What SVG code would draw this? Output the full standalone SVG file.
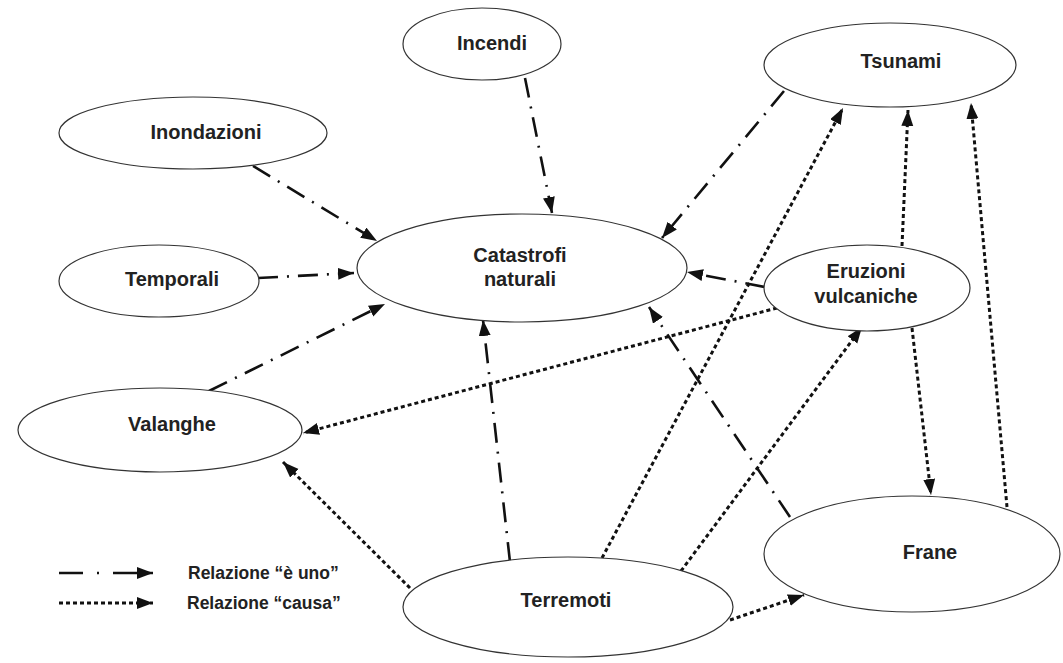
<svg xmlns="http://www.w3.org/2000/svg" width="1063" height="663" viewBox="0 0 1063 663">
<style>
.n ellipse{fill:#fff;stroke:#333;stroke-width:1.2}
.n text{font-family:"Liberation Sans",Arial,sans-serif;font-weight:bold;font-size:20px;fill:#222;text-anchor:middle}
.isa{fill:none;stroke:#111;stroke-width:2.6;stroke-dasharray:20 9 2 9;marker-end:url(#ah)}
.cause{fill:none;stroke:#111;stroke-width:3;stroke-dasharray:4 3;marker-end:url(#ah)}
.leg{font-family:"Liberation Sans",Arial,sans-serif;font-weight:bold;font-size:17.5px;fill:#222}
</style>
<defs>
<marker id="ah" markerUnits="userSpaceOnUse" markerWidth="18" markerHeight="14" refX="16" refY="6" orient="auto">
<path d="M0,0 L16,6 L0,12 Z" fill="#111"/>
</marker>
</defs>
<rect width="1063" height="663" fill="#fff"/>
<g id="connectors">
<line class="isa" x1="525" y1="78" x2="552" y2="213"/>
<line class="isa" x1="253" y1="166" x2="377" y2="241"/>
<line class="isa" x1="258" y1="278" x2="354" y2="273"/>
<line class="isa" x1="209" y1="391" x2="385" y2="304"/>
<line class="isa" x1="784" y1="91" x2="662" y2="238"/>
<line class="isa" x1="765" y1="287" x2="687" y2="272"/>
<line class="isa" x1="510" y1="562" x2="483" y2="320"/>
<line class="isa" x1="790" y1="517" x2="649" y2="307"/>
<line class="cause" x1="777" y1="308" x2="303" y2="433"/>
<line class="cause" x1="410" y1="588" x2="283" y2="462"/>
<line class="cause" x1="602" y1="558" x2="843" y2="108"/>
<line class="cause" x1="681" y1="571" x2="862" y2="327"/>
<line class="cause" x1="730" y1="620" x2="804" y2="595"/>
<line class="cause" x1="902" y1="246" x2="908" y2="110"/>
<line class="cause" x1="912" y1="328" x2="931" y2="495"/>
<line class="cause" x1="1007" y1="507" x2="971" y2="103"/>
</g>
<g id="incendi" class="n"><ellipse cx="482" cy="44" rx="79" ry="36"/><text x="492" y="50">Incendi</text></g>
<g id="tsunami" class="n"><ellipse cx="890" cy="65" rx="126" ry="42"/><text x="901" y="68">Tsunami</text></g>
<g id="inondazioni" class="n"><ellipse cx="193" cy="133" rx="134" ry="36"/><text x="206" y="139">Inondazioni</text></g>
<g id="temporali" class="n"><ellipse cx="159" cy="281" rx="100" ry="36"/><text x="172" y="286">Temporali</text></g>
<g id="catastrofi" class="n"><ellipse cx="522" cy="268" rx="165" ry="54"/><text x="520" y="262">Catastrofi</text><text x="520" y="286">naturali</text></g>
<g id="eruzioni" class="n"><ellipse cx="867" cy="288" rx="103" ry="43"/><text x="866" y="278">Eruzioni</text><text x="866" y="303">vulcaniche</text></g>
<g id="valanghe" class="n"><ellipse cx="160" cy="430" rx="142" ry="42"/><text x="172" y="431">Valanghe</text></g>
<g id="terremoti" class="n"><ellipse cx="568" cy="607" rx="165" ry="50"/><text x="566" y="607">Terremoti</text></g>
<g id="frane" class="n"><ellipse cx="912" cy="554" rx="148" ry="58"/><text x="930" y="559">Frane</text></g>
<g id="legend">
<line class="isa" x1="59" y1="573" x2="153" y2="573" style="stroke-dasharray:24 14 2 14 60"/>
<line class="cause" x1="59" y1="603" x2="153" y2="603"/>
<text class="leg" x="188" y="579">Relazione “è uno”</text>
<text class="leg" x="187" y="609">Relazione “causa”</text>
</g>
</svg>
